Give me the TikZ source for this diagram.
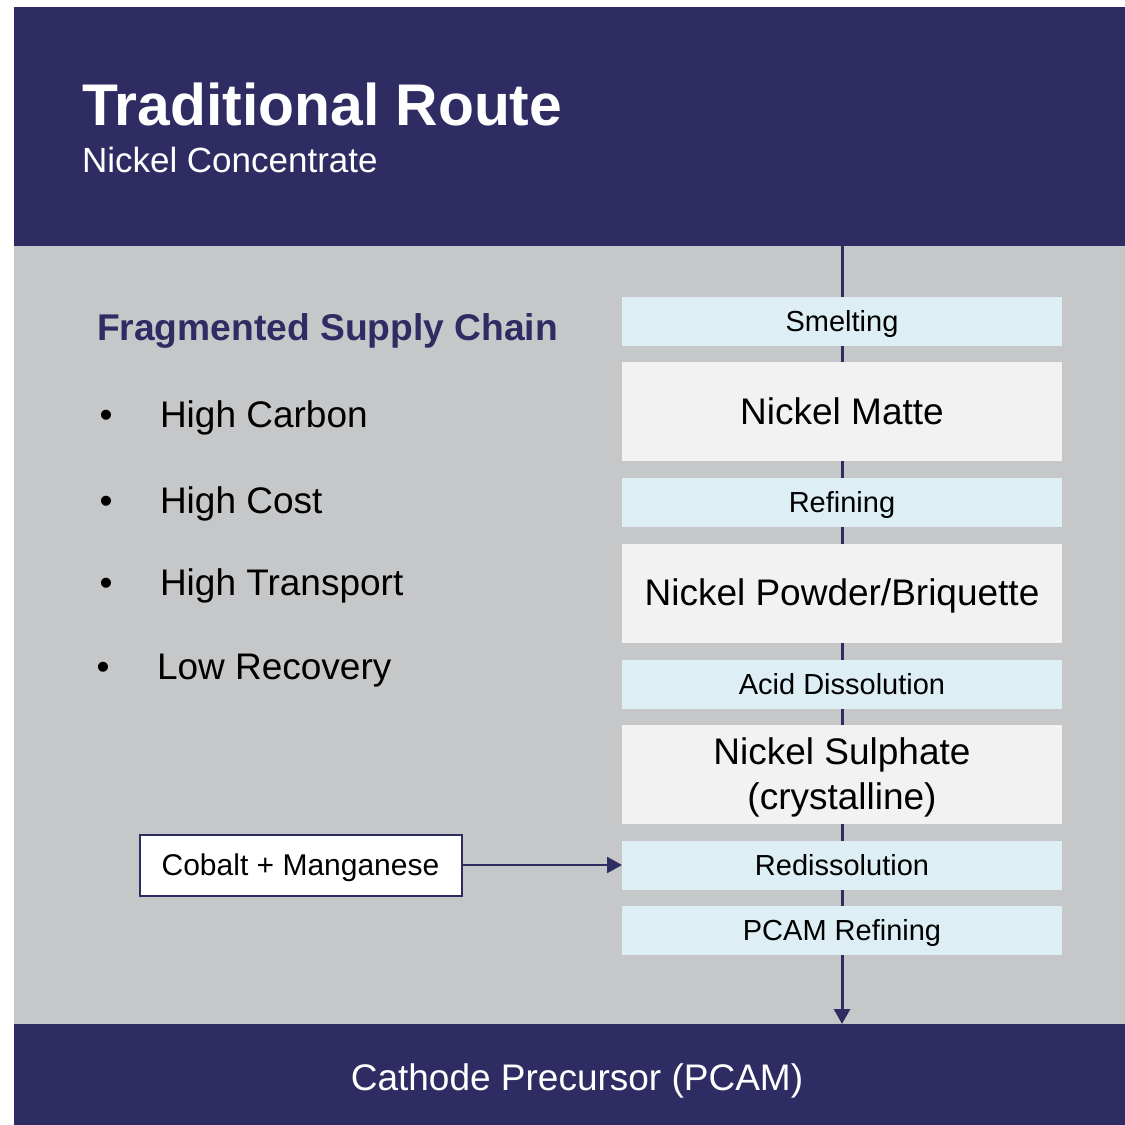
\documentclass[tikz,border=0pt]{standalone}
\usepackage{fontspec}
\setmainfont{Liberation Sans}
\usetikzlibrary{positioning, arrows.meta}
\definecolor{routenavy}{HTML}{2E2C63}
\definecolor{panelgray}{HTML}{C6C7C9}
\definecolor{stepblue}{HTML}{DDEEF5}
\definecolor{stategray}{HTML}{F2F2F2}

\begin{document}
\begin{tikzpicture}[
      x=1pt, y=-1pt,
      every node/.style={inner sep=0pt, outer sep=0pt},
      band/.style={fill=routenavy, minimum width=1111pt, anchor=north west},
      process/.style={fill=stepblue, minimum width=440pt, minimum height=49pt,
                      text height=26.2pt, text depth=6.2pt,
                      font=\fontsize{29}{34}\selectfont},
      product/.style={fill=stategray, minimum width=440pt, minimum height=99pt,
                      align=center, text height=33.5pt, text depth=7.8pt,
                      font=\fontsize{37}{45}\selectfont},
      point/.style={anchor=base west, font=\fontsize{37}{44}\selectfont},
      dot/.style={anchor=base, font=\fontsize{37}{44}\selectfont},
      flow/.style={draw=routenavy, line width=3pt},
      >={Triangle[width=16pt, length=15pt]},
    ]
    \useasboundingbox (0,0) rectangle (1125,1125);
    \fill[white] (0,0) rectangle (1125,1125);

    % Panels
    \fill[panelgray] (14,246) rectangle (1125,1024);
    \node[band, minimum height=239pt] (header) at (14,7) {};
    \node[band, minimum height=101pt] (footer) at (14,1024) {};

    % Titles
    \node[anchor=base west, text=white, font=\bfseries\fontsize{58.8}{70}\selectfont]
      (title) at (82,125) {Traditional Route};
    \node[anchor=base west, text=white, font=\fontsize{35}{42}\selectfont]
      (subtitle) at (82,172) {Nickel Concentrate};
    \node[anchor=base, text=white, font=\fontsize{37}{44}\selectfont]
      (pcamlabel) at (577,1090) {Cathode Precursor (PCAM)};

    % Drawbacks
    \node[anchor=base west, text=routenavy, font=\bfseries\fontsize{37.2}{44}\selectfont]
      (fragmented) at (97,340) {Fragmented Supply Chain};
    \node[dot]   (dot1) at (106,427) {\textbullet};
    \node[point] (carbon) at (160,427) {High Carbon};
    \node[dot]   (dot2) at (106,513) {\textbullet};
    \node[point] (cost) at (160,513) {High Cost};
    \node[dot]   (dot3) at (106,595) {\textbullet};
    \node[point] (transport) at (160,595) {High Transport};
    \node[dot]   (dot4) at (103,679) {\textbullet};
    \node[point] (recovery) at (157,679) {Low Recovery};

    % Process chain
    \node[process] (smelt)  at (842,321.5) {Smelting};
    \node[product] (matte)  at (842,411.5) {Nickel Matte};
    \node[process] (refine) at (842,502.5) {Refining};
    \node[product] (powder) at (842,593)   {Nickel Powder/Briquette};
    \node[process] (acid)   at (842,684.5) {Acid Dissolution};
    \node[product, text height=78.5pt]
                   (sulph)  at (842,774.5) {Nickel Sulphate\\(crystalline)};
    \node[process] (redis)  at (842,865.5) {Redissolution};
    \node[process] (pcam)   at (842,930.5) {PCAM Refining};

    \node[draw=routenavy, line width=2pt, fill=white, minimum width=322pt,
          minimum height=61pt, text height=27.2pt, text depth=6.4pt,
          font=\fontsize{30}{36}\selectfont]
      (cobalt) at (300.5,865) {Cobalt + Manganese};

    % Connections
    \draw[flow] (header.south -| smelt) -- (smelt);
    \draw[flow] (smelt) -- (matte);
    \draw[flow] (matte) -- (refine);
    \draw[flow] (refine) -- (powder);
    \draw[flow] (powder) -- (acid);
    \draw[flow] (acid) -- (sulph);
    \draw[flow] (sulph) -- (redis);
    \draw[flow] (redis) -- (pcam);
    \draw[flow, ->] (pcam) -- (pcam.south |- footer.north);
    \draw[flow, line width=2.5pt, ->] (cobalt) -- (cobalt -| redis.west);
  \end{tikzpicture}
\end{document}
